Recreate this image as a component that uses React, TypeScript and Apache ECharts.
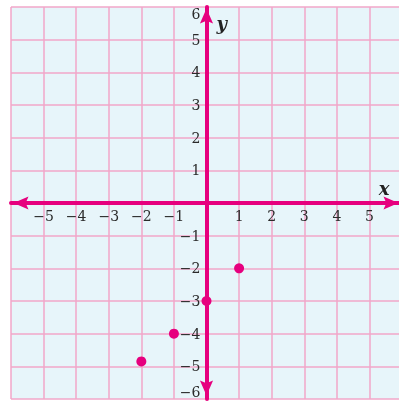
import React, { useEffect, useRef } from "react";
import * as echarts from "echarts";

const xTicks = [-6, -5, -4, -3, -2, -1, 0, 1, 2, 3, 4, 5, 6];
const yTicks = [-6, -5, -4, -3, -2, -1, 0, 1, 2, 3, 4, 5, 6];
const pointsX = [1, 0, -1, -2];
const pointsY = [-2, -3, -4, -4.85];

const MAGENTA = "#e6007e";
const GRIDPINK = "#f2a6c9";
const BG = "#e7f5fa";
const ARROW = "path://M7,0 L14,16 L7,13 L0,16 Z";
const fmt = (v: number) => (v < 0 ? "\u2212" + -v : String(v));

export default function App() {
  const ref = useRef<HTMLDivElement>(null);
  useEffect(() => {
    if (!ref.current) return;
    const chart = echarts.init(ref.current, undefined, { renderer: "svg" });
    const axisCommon = {
      type: "value" as const,
      interval: 1,
      axisTick: { show: false },
      splitLine: { show: true, lineStyle: { color: GRIDPINK, width: 1.5 } },
    };
    chart.setOption({
      animation: false,
      grid: {
        left: 11,
        top: 7,
        width: 391,
        height: 392,
        show: true,
        backgroundColor: BG,
        borderWidth: 0,
        containLabel: false,
        outerBoundsMode: "none",
      },
      xAxis: {
        ...axisCommon,
        position: "bottom",
        offset: -196,
        min: xTicks[0],
        max: xTicks[xTicks.length - 1],
        axisLine: {
          onZero: false,
          symbol: [ARROW, ARROW],
          symbolSize: [14, 15],
          symbolOffset: [10, -11],
          lineStyle: { color: MAGENTA, width: 4 },
        },
        axisLabel: {
          margin: 6,
          color: "#2a2a2a",
          fontFamily: "DejaVu Serif",
          fontSize: 14,
          formatter: (v: number) => (v === 0 || Math.abs(v) === 6 ? "" : fmt(v)),
        },
        name: "x",
        nameLocation: "end",
        nameGap: -18,
        nameTextStyle: {
          fontFamily: "DejaVu Serif",
          fontStyle: "italic",
          fontWeight: "bold",
          fontSize: 18,
          color: "#222",
          align: "center",
          verticalAlign: "bottom",
          padding: [0, 0, 6, 0],
        },
        z: 5,
      },
      yAxis: {
        ...axisCommon,
        position: "left",
        offset: -195.5,
        min: yTicks[0],
        max: yTicks[yTicks.length - 1],
        axisLine: {
          onZero: false,
          symbol: [ARROW, ARROW],
          symbolSize: [14, 15],
          symbolOffset: [11, -9],
          lineStyle: { color: MAGENTA, width: 4 },
        },
        axisLabel: {
          margin: 6,
          color: "#2a2a2a",
          fontFamily: "DejaVu Serif",
          fontSize: 14,
          verticalAlignMinLabel: "bottom",
          verticalAlignMaxLabel: "top",
          formatter: (v: number) => (v === 0 ? "" : fmt(v)),
        },
        name: "y",
        nameLocation: "end",
        nameGap: -16,
        nameTextStyle: {
          fontFamily: "DejaVu Serif",
          fontStyle: "italic",
          fontWeight: "bold",
          fontSize: 18,
          color: "#222",
          align: "left",
          verticalAlign: "middle",
          padding: [0, 0, 0, 10],
        },
        z: 5,
      },
      series: [
        {
          type: "scatter",
          data: pointsX.map((x, i) => [x, pointsY[i]]),
          symbolSize: 10,
          itemStyle: { color: MAGENTA, opacity: 1 },
          z: 10,
        },
      ],
    });
    return () => chart.dispose();
  }, []);
  return (
    <div
      ref={ref}
      style={{ position: "fixed", left: 0, top: 0, width: 404, height: 401 }}
    />
  );
}
